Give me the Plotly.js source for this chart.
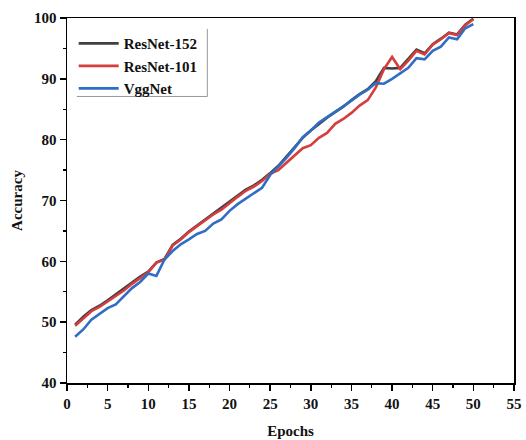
<!DOCTYPE html>
<html>
<head>
<meta charset="utf-8">
<script src="https://cdn.plot.ly/plotly-3.0.1.min.js"></script>
<style>html,body{margin:0;padding:0;background:#fff;}#chart{width:526px;height:440px;}</style>
</head>
<body>
<div id="chart"></div>
<script>
const epochs = Array.from({length: 50}, (_, i) => i + 1);
const seriesNames = ["ResNet-152", "ResNet-101", "VggNet"];
const resnet152 = [49.6,50.9,52.0,52.7,53.6,54.6,55.5,56.6,57.5,58.3,
  59.8,60.4,62.7,63.7,64.9,65.9,66.9,67.9,68.9,69.9,
  70.9,71.8,72.5,73.4,74.5,75.7,77.2,78.7,80.3,81.5,
  82.6,83.6,84.5,85.4,86.5,87.5,88.3,89.6,91.8,91.7,
  91.8,93.3,94.8,94.2,95.7,96.6,97.6,97.3,98.9,99.9];
const resnet101 = [49.4,50.6,51.8,52.5,53.4,54.4,55.2,56.3,57.2,58.2,
  59.8,60.3,62.6,63.6,64.8,65.8,66.8,67.7,68.5,69.6,
  70.6,71.6,72.3,73.2,74.4,75.0,76.2,77.4,78.6,79.1,
  80.3,81.1,82.6,83.4,84.4,85.6,86.5,88.6,91.6,93.6,
  91.6,93.0,94.6,94.0,95.6,96.5,97.5,97.2,98.8,99.8];
const vggnet = [47.6,48.8,50.4,51.4,52.3,52.9,54.3,55.6,56.6,58.0,
  57.6,60.3,61.7,62.8,63.6,64.5,65.0,66.2,66.9,68.3,
  69.4,70.3,71.2,72.1,74.2,75.6,77.0,78.6,80.4,81.5,
  82.8,83.7,84.6,85.4,86.4,87.4,88.2,89.3,89.2,90.0,
  90.9,91.8,93.4,93.2,94.6,95.3,96.8,96.5,98.3,99.0];
const xTicks = [0,5,10,15,20,25,30,35,40,45,50,55];
const yTicks = [40,50,60,70,80,90,100];

const colors = ["#404040", "#d63d3d", "#2f6ec4"];
const ys = [resnet152, resnet101, vggnet];
const traces = ys.map((y, i) => ({
  x: epochs, y: y, name: seriesNames[i], type: "scatter", mode: "lines",
  line: {color: colors[i], width: 2.6}
}));

const font = {family: "Liberation Serif, Times New Roman, serif", color: "#111", size: 15};
const layout = {
  width: 526, height: 440,
  margin: {l: 67, r: 12, t: 18, b: 57},
  paper_bgcolor: "#fff", plot_bgcolor: "#fff",
  font: font,
  showlegend: true,
  legend: {
    x: 0.015, y: 0.975, xanchor: "left", yanchor: "top",
    bgcolor: "rgba(255,255,255,0)", borderwidth: 0,
    font: {family: font.family, size: 15, color: "#111", weight: "bold"},
    tracegroupgap: 0, itemwidth: 40
  },
  xaxis: {
    range: [0, 55], tickvals: xTicks, ticktext: xTicks.map(String),
    showgrid: false, zeroline: false,
    showline: true, linecolor: "#000", linewidth: 1.5, mirror: true,
    ticks: "outside", ticklen: 6, tickwidth: 1.5, tickcolor: "#000",
    minor: {dtick: 2.5, tick0: 0, ticks: "outside", ticklen: 3, tickwidth: 1.2, tickcolor: "#000", showgrid: false},
    tickfont: {family: font.family, size: 15, color: "#111", weight: "bold"},
    title: {text: "Epochs", font: {family: font.family, size: 15, color: "#111", weight: "bold"}, standoff: 15}
  },
  yaxis: {
    range: [40, 100], tickvals: yTicks, ticktext: yTicks.map(String),
    showgrid: false, zeroline: false,
    showline: true, linecolor: "#000", linewidth: 1.5, mirror: true,
    ticks: "outside", ticklen: 6, tickwidth: 1.5, tickcolor: "#000",
    minor: {dtick: 5, tick0: 40, ticks: "outside", ticklen: 3, tickwidth: 1.2, tickcolor: "#000", showgrid: false},
    tickfont: {family: font.family, size: 15, color: "#111", weight: "bold"},
    title: {text: "Accuracy", font: {family: font.family, size: 15, color: "#111", weight: "bold"}, standoff: 8}
  },
  shapes: [
    {type: "line", xref: "paper", yref: "paper", x0: 0.314, x1: 0.314, y0: 0.785, y1: 0.97, line: {color: "#999", width: 1}},
    {type: "line", xref: "paper", yref: "paper", x0: 0.022, x1: 0.314, y0: 0.785, y1: 0.785, line: {color: "#999", width: 1}}
  ]
};
Plotly.newPlot("chart", traces, layout, {staticPlot: true, displayModeBar: false});
</script>
</body>
</html>
